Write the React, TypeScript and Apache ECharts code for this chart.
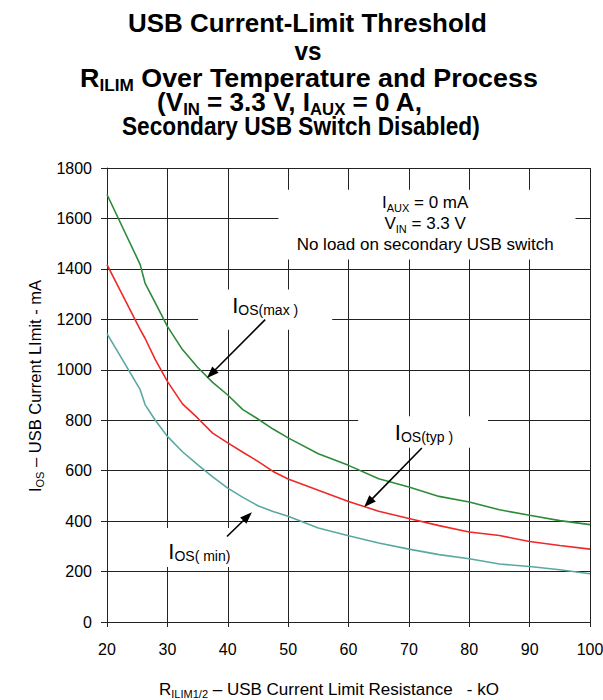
import React, { useEffect, useRef } from 'react';
import * as echarts from 'echarts';

// ---------- data ----------
const RESISTANCE_KOHM = [20, 25.5, 26.3, 28, 30, 32.5, 35, 37.5, 40, 42.5, 45, 47.5, 50, 55, 60, 65, 70, 75, 80, 85, 90, 95, 100];
const IOS_MAX_MA = [1695, 1417, 1344, 1265, 1172, 1080, 1010, 950, 900, 842, 805, 765, 730, 667, 621, 568, 535, 498, 476, 445, 423, 402, 386];
const IOS_TYP_MA = [1417, 1159, 1125, 1040, 954, 865, 809, 749, 710, 673, 637, 597, 567, 522, 478, 439, 410, 382, 357, 343, 319, 303, 289];
const IOS_MIN_MA = [1143, 921, 862, 800, 736, 675, 624, 575, 531, 494, 461, 438, 419, 373, 342, 313, 289, 267, 251, 230, 220, 207, 191];

const X_MIN = 20;
const X_MAX = 100;
const X_STEP = 10;
const Y_MIN = 0;
const Y_MAX = 1800;
const Y_STEP = 200;

// ---------- styles ----------
const FONT = '"Liberation Sans", Arial, Helvetica, sans-serif';
const GRID_COLOR = '#222';
const COLOR_MAX = '#2e8b3a';
const COLOR_TYP = '#f02828';
const COLOR_MIN = '#5aa9a0';

type Seg = { t: string; s: number; dy?: number };

let measureCtx: CanvasRenderingContext2D | null = null;
function measure(t: string, s: number, weight: string): number {
  if (!measureCtx) measureCtx = document.createElement('canvas').getContext('2d');
  measureCtx!.font = `${weight} ${s}px ${FONT}`;
  return measureCtx!.measureText(t).width;
}

// a row of text pieces (main text + subscripts) laid out along a baseline
function textRow(
  segs: Seg[],
  x: number,
  y: number,
  opts: { weight?: string; rotation?: number; z?: number; width?: number } = {}
) {
  const weight = opts.weight || 'normal';
  const z = opts.z ?? 10;
  const widths = segs.map((g) => measure(g.t, g.s, weight));
  const total = widths.reduce((a, b) => a + b, 0);
  let cx = -total / 2;
  const children = segs.map((g, i) => {
    const lead = g.t.length - g.t.replace(/^\s+/, '').length;
    const leadW = lead ? measure(g.t.slice(0, lead), g.s, weight) : 0;
    const el = {
      type: 'text',
      x: cx + leadW,
      y: (g.dy || 0) - 0.347 * g.s,
      z,
      style: {
        text: g.t.trim(),
        fontSize: g.s,
        fontWeight: weight,
        fontFamily: FONT,
        fill: '#000',
        align: 'left',
        verticalAlign: 'middle',
      },
    };
    cx += widths[i];
    return el;
  });
  const scaleX = opts.width ? opts.width / total : 1;
  return { type: 'group', x, y, rotation: opts.rotation || 0, scaleX, z, children };
}

function arrow(p0: number[], p1: number[], z: number) {
  const dx = p1[0] - p0[0];
  const dy = p1[1] - p0[1];
  const L = Math.hypot(dx, dy);
  const ux = dx / L;
  const uy = dy / L;
  const hl = 12;
  const hw = 4.5;
  const bx = p1[0] - ux * hl;
  const by = p1[1] - uy * hl;
  return [
    { type: 'line', z, shape: { x1: p0[0], y1: p0[1], x2: bx + ux * 2, y2: by + uy * 2 }, style: { stroke: '#000', lineWidth: 1.6 } },
    {
      type: 'polygon',
      z,
      shape: { points: [[p1[0], p1[1]], [bx - uy * hw, by + ux * hw], [bx + uy * hw, by - ux * hw]] },
      style: { fill: '#000' },
    },
  ];
}

// annotation anchors, in data coordinates (kΩ, mA)
const NOTE_BOX = [[48.4, 1714], [97.6, 1437]];
const MAX_BOX = [[35.1, 1318], [57.3, 1159]];
const TYP_BOX = [[61.6, 816], [83.1, 691]];
const MIN_BOX = [[29.1, 373], [41.0, 218]];

function pairs(ys: number[]) {
  return RESISTANCE_KOHM.map((x, i) => [x, ys[i]]);
}

function baseOption() {
  const axisText = { color: '#000', fontSize: 16, fontFamily: FONT };
  return {
    animation: false,
    backgroundColor: '#fff',
    grid: { left: 107, right: 13, top: 168, bottom: 78, containLabel: false, outerBoundsMode: 'none' },
    xAxis: {
      type: 'value',
      min: X_MIN,
      max: X_MAX,
      interval: X_STEP,
      axisLine: { show: true, onZero: false, lineStyle: { color: GRID_COLOR, width: 1 } },
      axisTick: { show: true, inside: false, length: 5, lineStyle: { color: GRID_COLOR, width: 1 } },
      axisLabel: {
        ...axisText,
        margin: 19,
        showMaxLabel: true,
        showMinLabel: true,
        hideOverlap: false,
        formatter: (v: number) => String(v),
      },
      splitLine: { show: true, lineStyle: { color: GRID_COLOR, width: 1 } },
    },
    yAxis: {
      type: 'value',
      min: Y_MIN,
      max: Y_MAX,
      interval: Y_STEP,
      axisLine: { show: true, onZero: false, lineStyle: { color: GRID_COLOR, width: 1 } },
      axisTick: { show: true, inside: false, length: 6, lineStyle: { color: GRID_COLOR, width: 1 } },
      axisLabel: {
        ...axisText,
        margin: 15,
        showMaxLabel: true,
        showMinLabel: true,
        formatter: (v: number) => String(v),
      },
      splitLine: { show: true, lineStyle: { color: GRID_COLOR, width: 1 } },
    },
    series: [
      { name: 'IOS(max)', type: 'line', data: pairs(IOS_MAX_MA), showSymbol: false, symbol: 'none', lineStyle: { color: COLOR_MAX, width: 1.6 }, itemStyle: { color: COLOR_MAX }, z: 2 },
      { name: 'IOS(typ)', type: 'line', data: pairs(IOS_TYP_MA), showSymbol: false, symbol: 'none', lineStyle: { color: COLOR_TYP, width: 1.6 }, itemStyle: { color: COLOR_TYP }, z: 2 },
      { name: 'IOS(min)', type: 'line', data: pairs(IOS_MIN_MA), showSymbol: false, symbol: 'none', lineStyle: { color: COLOR_MIN, width: 1.6 }, itemStyle: { color: COLOR_MIN }, z: 2 },
    ],
  };
}

function graphics(toPx: (p: number[]) => number[]) {
  const els: any[] = [];
  const box = (b: number[][]) => {
    const a = toPx(b[0]);
    const c = toPx(b[1]);
    els.push({
      type: 'rect',
      z: 5,
      shape: { x: Math.min(a[0], c[0]), y: Math.min(a[1], c[1]), width: Math.abs(c[0] - a[0]), height: Math.abs(c[1] - a[1]) },
      style: { fill: '#fff' },
    });
  };
  box(NOTE_BOX);
  box(MAX_BOX);
  box(TYP_BOX);
  box(MIN_BOX);

  // chart title
  const TW = 'bold';
  const TS = 25;
  const TSUB = 16;
  els.push(textRow([{ t: 'USB Current-Limit Threshold', s: TS }], 307.5, 32, { weight: TW, width: 359 }));
  els.push(textRow([{ t: 'vs', s: TS }], 308, 60, { weight: TW, width: 27 }));
  els.push(
    textRow([{ t: 'R', s: TS }, { t: 'ILIM', s: TSUB, dy: 4 }, { t: ' Over Temperature and Process', s: TS }], 309, 87, {
      weight: TW,
      width: 458,
    })
  );
  els.push(
    textRow(
      [
        { t: '(V', s: TS },
        { t: 'IN', s: TSUB, dy: 4 },
        { t: ' = 3.3 V, I', s: TS },
        { t: 'AUX', s: TSUB, dy: 4 },
        { t: ' = 0 A,', s: TS },
      ],
      290,
      111,
      { weight: TW, width: 266 }
    )
  );
  els.push(textRow([{ t: 'Secondary USB Switch Disabled)', s: TS }], 301, 135, { weight: TW, width: 358 }));

  // note block
  const n1 = toPx([72.7, 1639]);
  const n2 = toPx([72.7, 1556]);
  const n3 = toPx([72.7, 1472]);
  els.push(textRow([{ t: 'I', s: 17 }, { t: 'AUX', s: 11, dy: 3 }, { t: ' = 0 mA', s: 17 }], n1[0], n1[1]));
  els.push(textRow([{ t: 'V', s: 17 }, { t: 'IN', s: 11, dy: 3 }, { t: ' = 3.3 V', s: 17 }], n2[0], n2[1]));
  els.push(textRow([{ t: 'No load on secondary USB switch', s: 17 }], n3[0], n3[1]));

  // curve labels
  const lMax = toPx([46.2, 1226]);
  const lTyp = toPx([72.5, 723]);
  const lMin = toPx([35.3, 251]);
  els.push(textRow([{ t: 'I', s: 22 }, { t: 'OS(max )', s: 14, dy: 2 }], lMax[0], lMax[1]));
  els.push(textRow([{ t: 'I', s: 22 }, { t: 'OS(typ )', s: 14, dy: 2 }], lTyp[0], lTyp[1]));
  els.push(textRow([{ t: 'I', s: 22 }, { t: 'OS( min)', s: 14, dy: 2 }], lMin[0], lMin[1]));

  // arrows
  els.push(...arrow(toPx([46.2, 1199]), toPx([36.56, 967]), 10));
  els.push(...arrow(toPx([72.15, 690]), toPx([62.6, 456]), 10));
  els.push(...arrow(toPx([39.87, 339]), toPx([44.0, 435]), 10));

  // axis titles
  els.push(
    textRow(
      [
        { t: 'R', s: 17 },
        { t: 'ILIM1/2', s: 11, dy: 2 },
        { t: ' – USB Current Limit Resistance', s: 17 },
        { t: '   - kO', s: 17 },
      ],
      329,
      695.5
    )
  );
  els.push(
    textRow([{ t: 'I', s: 16.5 }, { t: 'OS', s: 11, dy: 3 }, { t: ' – USB Current LImit - mA', s: 16.5 }], 41, 386, {
      rotation: Math.PI / 2,
    })
  );
  return els;
}

export default function App() {
  const ref = useRef<HTMLDivElement>(null);
  useEffect(() => {
    const chart = echarts.init(ref.current!, null, { renderer: 'svg' });
    chart.setOption(baseOption() as any);
    const toPx = (p: number[]) => chart.convertToPixel({ gridIndex: 0 }, p) as unknown as number[];
    chart.setOption({ graphic: { elements: graphics(toPx) } } as any);
    return () => chart.dispose();
  }, []);
  return (
    <div
      ref={ref}
      style={{ position: 'fixed', left: 0, top: 0, width: 603, height: 700, background: '#fff' }}
    />
  );
}
